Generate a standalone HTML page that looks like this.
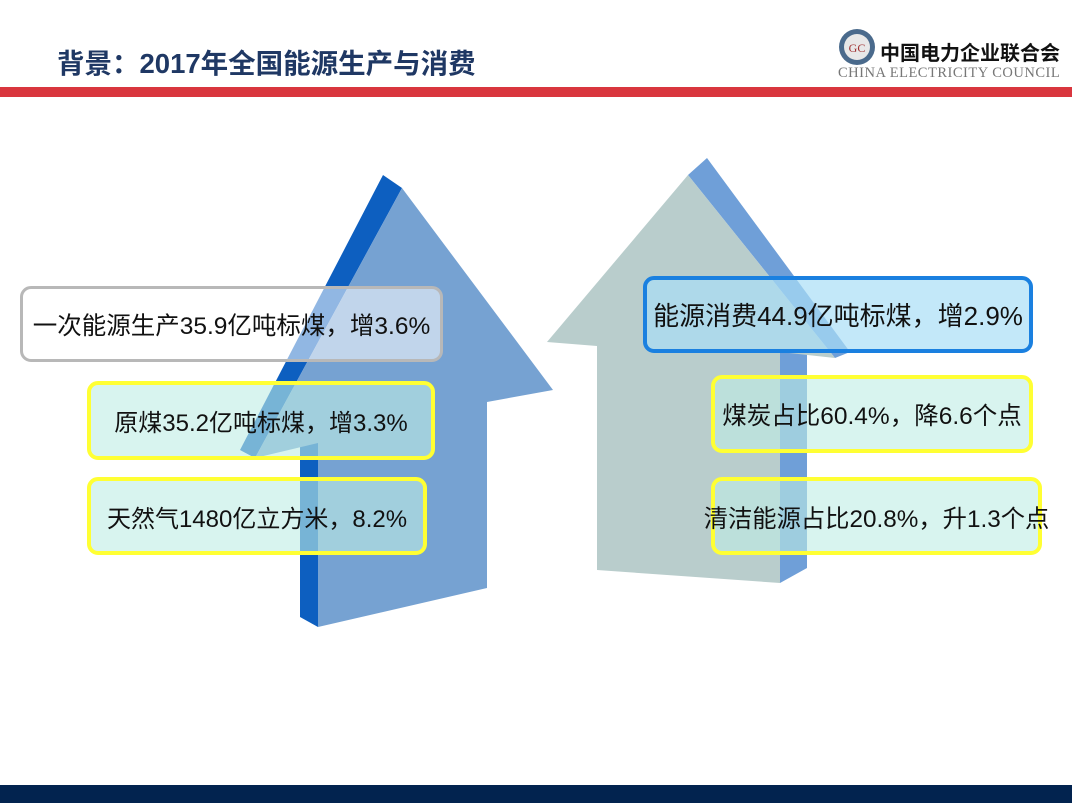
<!DOCTYPE html>
<html><head><meta charset="utf-8"><style>
body{margin:0;width:1072px;height:803px;position:relative;overflow:hidden;background:#fff;font-family:"Liberation Sans","Noto Sans CJK SC",sans-serif}
.t{position:absolute;left:57px;top:41px;font-size:27.5px;font-weight:bold;color:#1f3864;letter-spacing:0px}
.box{position:absolute;box-sizing:border-box;border-radius:11px;display:flex;align-items:center;justify-content:center;font-size:24px;color:#111;white-space:nowrap}
.g{border:3px solid #b8b8b8;background:rgba(255,255,255,0.55)}
.y{border:4px solid #ffff33;background:rgba(190,236,228,0.6)}
.b{border:4px solid #1a80e0;background:rgba(170,222,246,0.7)}
</style></head><body>
<div class="t">背景：2017年全国能源生产与消费</div>
<svg style="position:absolute;left:838px;top:28px" width="38" height="38"><circle cx="19" cy="19" r="18" fill="#4a6a8c"/><circle cx="19" cy="19" r="13" fill="#e8e8e8"/><text x="19" y="24" font-size="12" text-anchor="middle" fill="#a03030" font-family="Liberation Serif">GC</text></svg>
<div style="position:absolute;left:880px;top:37px;font-size:20px;font-weight:bold;color:#111">中国电力企业联合会</div>
<div style="position:absolute;left:838px;top:65px;font-size:14.5px;color:#777;font-family:'Liberation Serif',serif;letter-spacing:0.5px">CHINA ELECTRICITY COUNCIL</div>
<div style="position:absolute;left:0;top:87px;width:1072px;height:10px;background:#d9363e"></div>
<div style="position:absolute;left:0;top:785px;width:1072px;height:18px;background:#02234f"></div>
<svg style="position:absolute;left:0;top:0" width="1072" height="803">
<polygon points="383,175 402,188 255,458 240,450" fill="#0d5fc0"/>
<polygon points="300,440 318,443 318,627 300,617" fill="#0d5fc0"/>
<polygon points="402,188 553,390 487,402 487,588 318,627 318,443 255,458" fill="#76a2d2"/>
<polygon points="707,158 688,175 835,358 850,352" fill="#6f9fd8"/>
<polygon points="780,350 807,352 807,568 780,583" fill="#6f9fd8"/>
<polygon points="688,175 835,358 780,352 780,583 597,570 597,346 547,342" fill="#b9cdcc"/>
</svg>
<div class="box g" style="left:20px;top:286px;width:423px;height:76px;font-size:24.5px">一次能源生产35.9亿吨标煤，增3.6%</div>
<div class="box y" style="left:87px;top:381px;width:348px;height:79px">原煤35.2亿吨标煤，增3.3%</div>
<div class="box y" style="left:87px;top:477px;width:340px;height:78px">天然气1480亿立方米，8.2%</div>
<div class="box b" style="left:643px;top:276px;width:390px;height:77px;font-size:26px">能源消费44.9亿吨标煤，增2.9%</div>
<div class="box y" style="left:711px;top:375px;width:322px;height:78px;font-size:24.5px">煤炭占比60.4%，降6.6个点</div>
<div class="box y" style="left:711px;top:477px;width:331px;height:78px;font-size:24.3px">清洁能源占比20.8%，升1.3个点</div>
</body></html>
